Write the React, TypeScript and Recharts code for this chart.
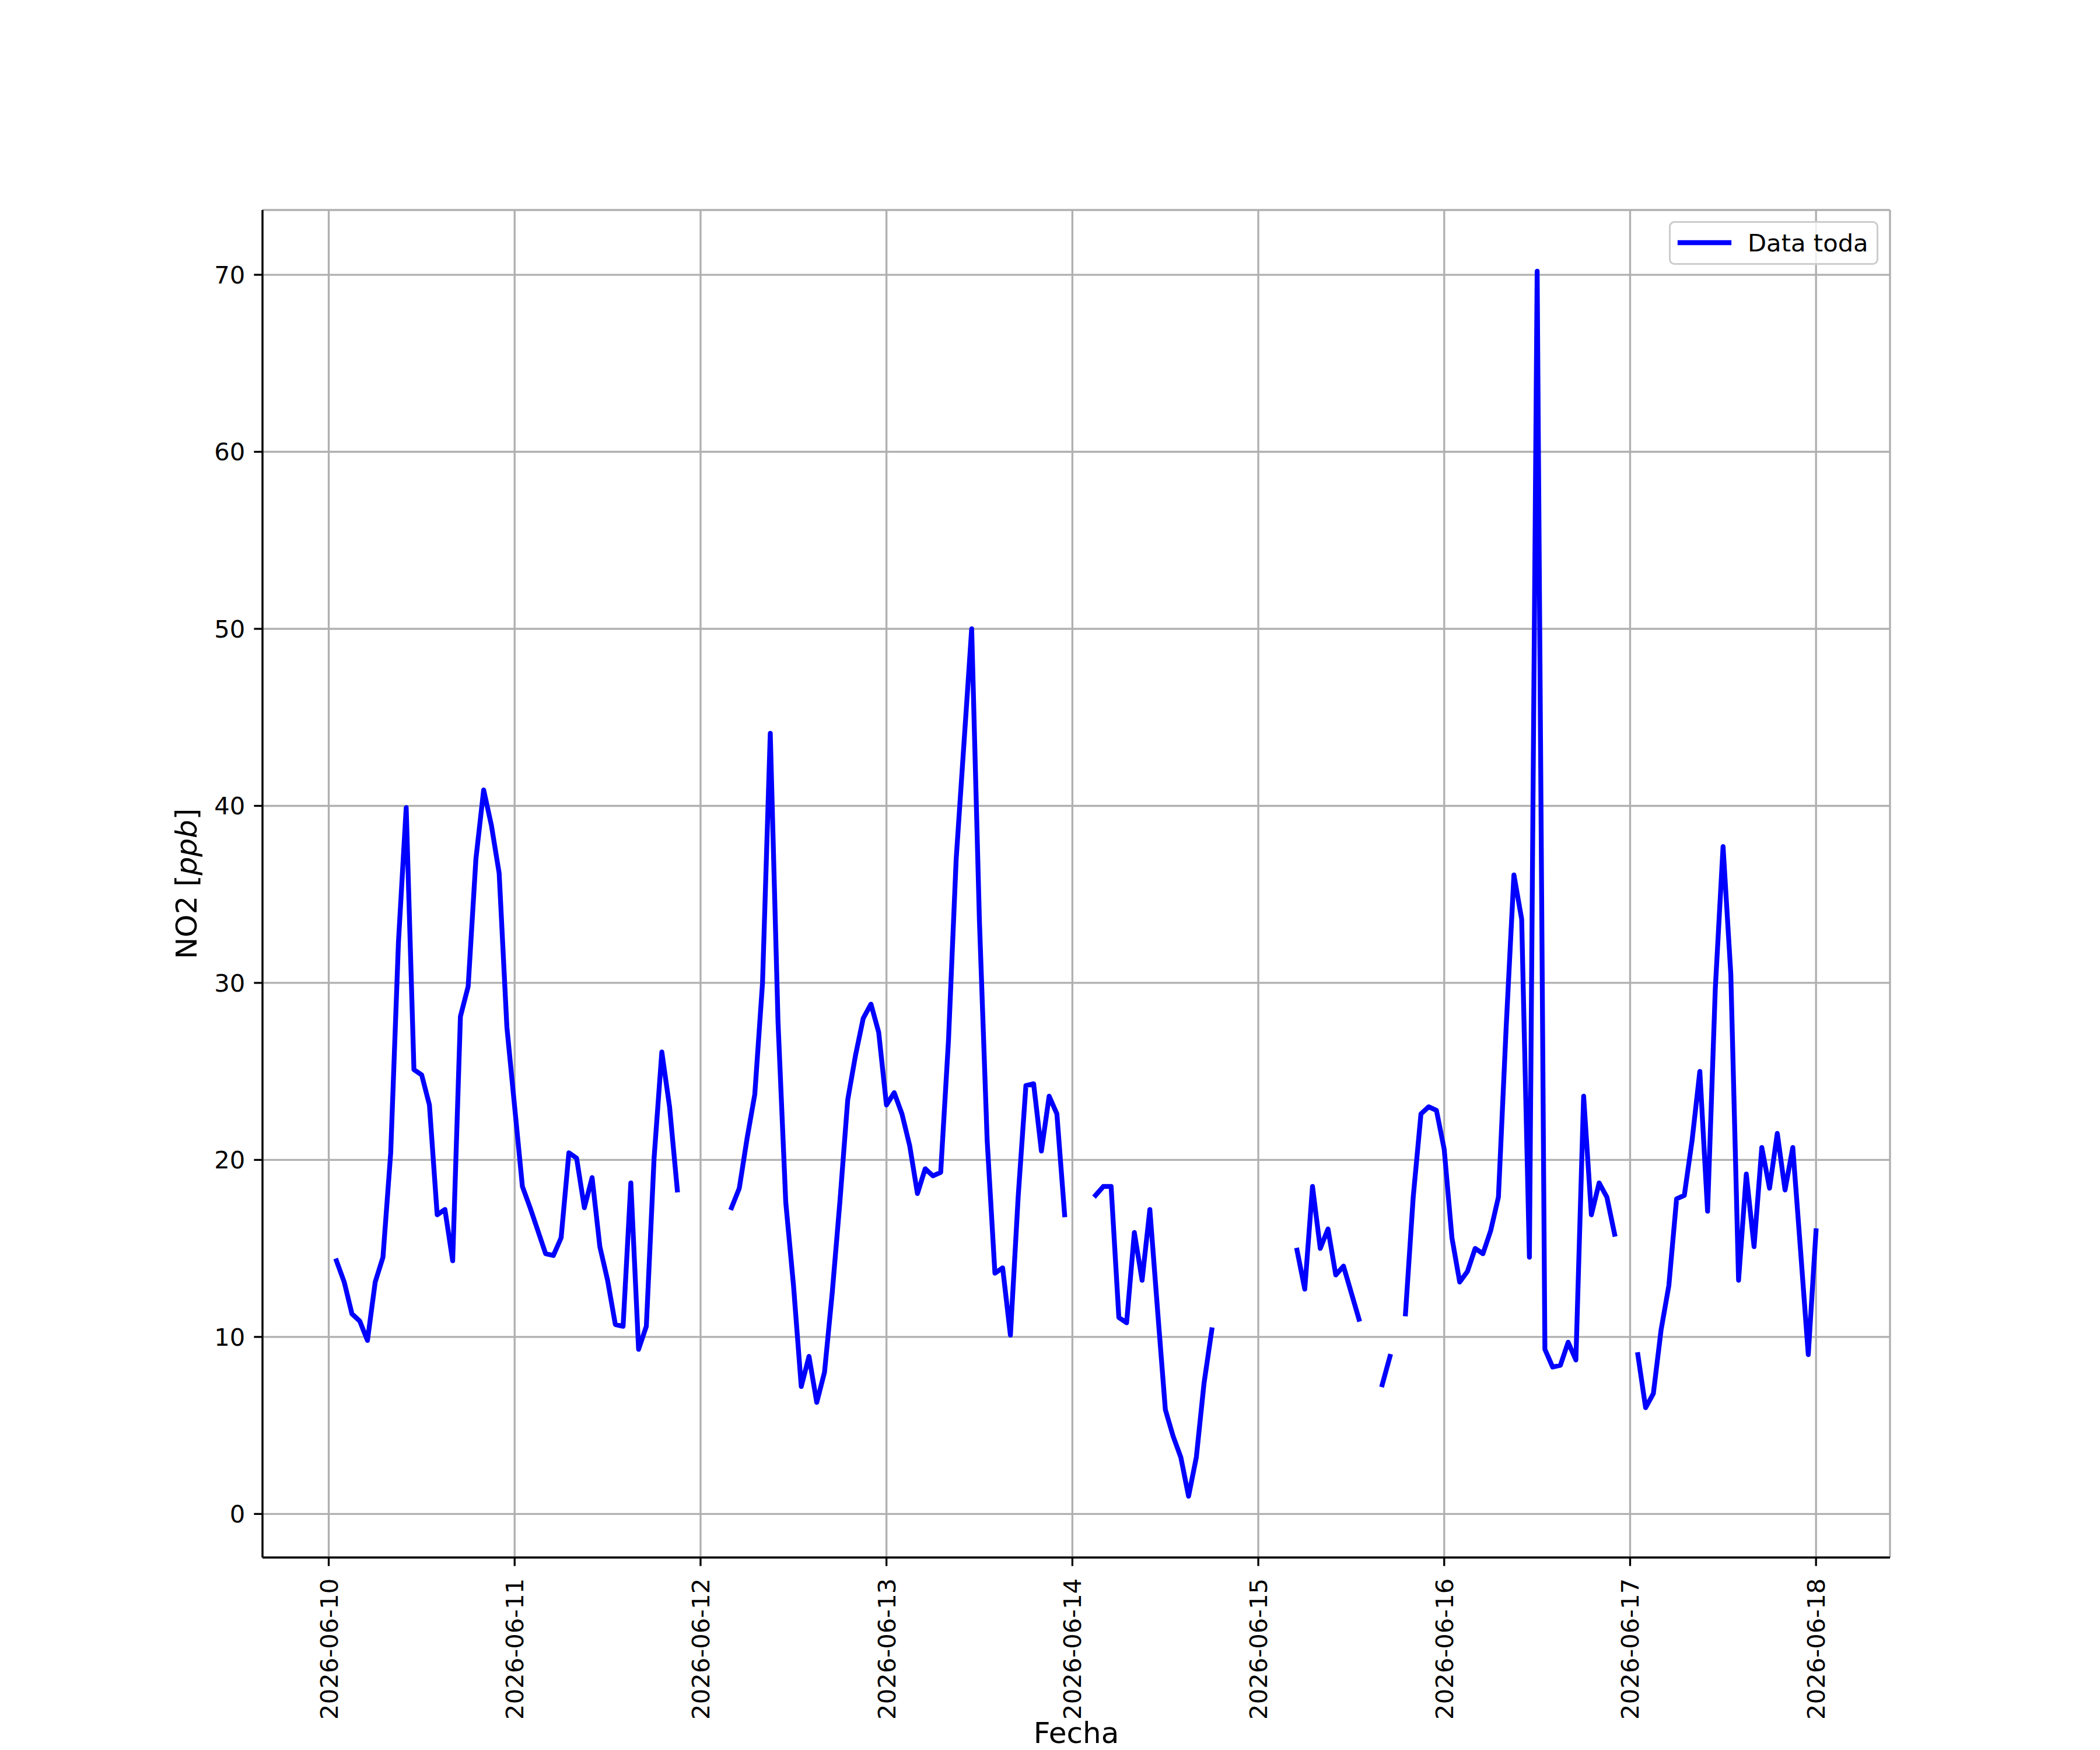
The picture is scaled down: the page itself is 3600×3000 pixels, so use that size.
import { LineChart, Line, XAxis, YAxis, CartesianGrid, Legend } from 'recharts';

// hourly NO2 readings (ppb), one array per day starting at 00:00 UTC, null = no data
const day10 = [null, 14.3, 13.1, 11.3, 10.9, 9.8, 13.1, 14.5, 20.4, 32.3, 39.9, 25.1, 24.8, 23.1, 16.9, 17.2, 14.3, 28.1, 29.8, 37.0, 40.9, 38.9, 36.2, 27.5];
const day11 = [23.0, 18.5, 17.3, 16.0, 14.7, 14.6, 15.6, 20.4, 20.1, 17.3, 19.0, 15.1, 13.2, 10.7, 10.6, 18.7, 9.3, 10.6, 20.1, 26.1, 23.0, 18.3, null, null];
const day12 = [null, null, null, null, 17.3, 18.4, 21.2, 23.7, 30.0, 44.1, 27.8, 17.6, 12.9, 7.2, 8.9, 6.3, 8.0, 12.5, 17.7, 23.4, 25.9, 28.0, 28.8, 27.2];
const day13 = [23.1, 23.8, 22.6, 20.8, 18.1, 19.5, 19.1, 19.3, 26.7, 37.0, 43.5, 50.0, 33.5, 21.1, 13.6, 13.9, 10.1, 17.9, 24.2, 24.3, 20.5, 23.6, 22.6, 16.9];
const day14 = [null, null, null, 18.0, 18.5, 18.5, 11.1, 10.8, 15.9, 13.2, 17.2, 11.5, 5.9, 4.4, 3.2, 1.0, 3.2, 7.4, 10.4, null, null, null, null, null];
const day15 = [null, null, null, null, null, 14.9, 12.7, 18.5, 15.0, 16.1, 13.5, 14.0, 12.5, 11.0, null, null, 7.3, 8.9, null, 11.3, 17.9, 22.6, 23.0, 22.8];
const day16 = [20.6, 15.6, 13.1, 13.7, 15.0, 14.7, 16.0, 17.9, 27.5, 36.1, 33.6, 14.5, 70.2, 9.3, 8.3, 8.4, 9.7, 8.7, 23.6, 16.9, 18.7, 17.9, 15.8, null];
const day17 = [null, 9.0, 6.0, 6.8, 10.4, 12.9, 17.8, 18.0, 21.1, 25.0, 17.1, 29.7, 37.7, 30.5, 13.2, 19.2, 15.1, 20.7, 18.4, 21.5, 18.3, 20.7, 14.9, 9.0];
const day18 = [16.0];

const dayLabels = ['2026-06-10', '2026-06-11', '2026-06-12', '2026-06-13', '2026-06-14', '2026-06-15', '2026-06-16', '2026-06-17', '2026-06-18'];
const yTicks = [0, 10, 20, 30, 40, 50, 60, 70];

const days = [day10, day11, day12, day13, day14, day15, day16, day17, day18];
const data = days.flatMap((vals, d) =>
  vals.map((v, h) => ({ t: Date.UTC(2026, 5, 10 + d, h), no2: v }))
);
const xTicks = dayLabels.map((s) => Date.parse(s + 'T00:00:00Z'));

// matplotlib style autoscale: 5% margin around the valid data
const valid = data.filter((r) => r.no2 !== null);
const tMin = valid[0].t;
const tMax = valid[valid.length - 1].t;
const tPad = (tMax - tMin) * 0.05;
const vals = valid.map((r) => r.no2 as number);
const vMin = Math.min(...vals);
const vMax = Math.max(...vals);
const vPad = (vMax - vMin) * 0.05;
const xDomain: [number, number] = [tMin - tPad, tMax + tPad];
const yDomain: [number, number] = [vMin - vPad, vMax + vPad];

const FONT = 'DejaVu Sans';
const TICK_FS = 41.7;
const LABEL_FS = 50;
const LW = 3.33;

const fmtDate = (t: number) => new Date(t).toISOString().slice(0, 10);

const DateTick = (props: any) => {
  const { x, y, payload } = props;
  return (
    <text
      x={x}
      y={y}
      transform={`rotate(-90, ${x}, ${y})`}
      textAnchor="end"
      dy="0.36em"
      fontSize={TICK_FS}
      fontFamily={FONT}
      fill="#000"
    >
      {fmtDate(payload.value)}
    </text>
  );
};

const YLabel = (props: any) => {
  const { viewBox } = props;
  const cx = 337;
  const cy = viewBox.y + viewBox.height / 2;
  return (
    <text
      x={cx}
      y={cy}
      transform={`rotate(-90, ${cx}, ${cy})`}
      textAnchor="middle"
      fontSize={LABEL_FS}
      fontFamily={FONT}
      fill="#000"
    >
      NO2 [<tspan fontStyle="italic">ppb</tspan>]
    </text>
  );
};

const XLabel = (props: any) => {
  const { viewBox } = props;
  return (
    <text
      x={viewBox.x + viewBox.width / 2}
      y={2988}
      textAnchor="middle"
      fontSize={LABEL_FS}
      fontFamily={FONT}
      fill="#000"
    >
      Fecha
    </text>
  );
};

const LegendBox = (props: any) => {
  const name = props.payload && props.payload[0] ? props.payload[0].value : 'Data toda';
  return (
    <svg width={360} height={76} style={{ display: 'block' }}>
      <rect x={1.5} y={1.5} width={356} height={72} rx={8} fill="#fff" fillOpacity={0.8} stroke="#cccccc" strokeWidth={3} />
      <line x1={19} y1={37} x2={103} y2={37} stroke="#0000ff" strokeWidth={8.3} strokeLinecap="square" />
      <text x={135} y={37} dy="0.36em" fontSize={TICK_FS} fontFamily={FONT} fill="#000">
        {name}
      </text>
    </svg>
  );
};

export default function App() {
  return (
    <div style={{ position: 'absolute', left: 0, top: 0, width: 3600, height: 3000, background: '#fff' }}>
      <LineChart width={3600} height={3000} data={data} margin={{ top: 360, right: 360, bottom: 0, left: 0 }}>
        <CartesianGrid stroke="#b0b0b0" strokeWidth={LW} />
        <XAxis
          dataKey="t"
          type="number"
          scale="linear"
          domain={xDomain}
          ticks={xTicks}
          interval={0}
          height={330}
          tick={<DateTick />}
          tickSize={14.6}
          tickMargin={21}
          tickLine={{ stroke: '#000', strokeWidth: LW }}
          axisLine={{ stroke: '#000', strokeWidth: LW }}
          allowDataOverflow
          label={<XLabel />}
        />
        <XAxis
          xAxisId="top"
          orientation="top"
          type="number"
          domain={xDomain}
          height={0}
          tick={false}
          tickLine={false}
          axisLine={{ stroke: '#000', strokeWidth: LW }}
          allowDataOverflow
        />
        <YAxis
          type="number"
          domain={yDomain}
          ticks={yTicks}
          interval={0}
          width={450}
          tick={{ fontSize: TICK_FS, fontFamily: FONT, fill: '#000' }}
          tickSize={14.6}
          tickMargin={15}
          tickLine={{ stroke: '#000', strokeWidth: LW }}
          axisLine={{ stroke: '#000', strokeWidth: LW }}
          allowDataOverflow
          label={<YLabel />}
        />
        <YAxis
          yAxisId="right"
          orientation="right"
          type="number"
          domain={yDomain}
          width={0}
          tick={false}
          tickLine={false}
          axisLine={{ stroke: '#000', strokeWidth: LW }}
          allowDataOverflow
        />
        <Legend
          layout="horizontal"
          verticalAlign="middle"
          align="center"
          content={<LegendBox />}
          wrapperStyle={{ top: 379, left: 2861, width: 360, height: 76 }}
        />
        <Line
          type="linear"
          dataKey="no2"
          name="Data toda"
          stroke="#0000ff"
          strokeWidth={8.3}
          strokeLinejoin="round"
          strokeLinecap="square"
          dot={false}
          activeDot={false}
          connectNulls={false}
          isAnimationActive={false}
        />
      </LineChart>
    </div>
  );
}
